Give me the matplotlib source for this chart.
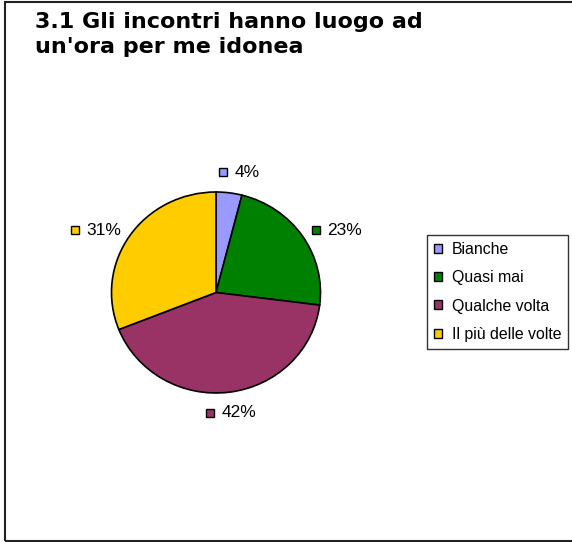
import matplotlib
matplotlib.use('Agg')
import matplotlib.pyplot as plt
from matplotlib.patches import Rectangle
from matplotlib.offsetbox import AnnotationBbox, HPacker, TextArea, DrawingArea
import numpy as np

# data
categories = ['Bianche', 'Quasi mai', 'Qualche volta', 'Il più delle volte']
percent = [4, 23, 42, 31]
colors = ['#9999FF', '#008000', '#993366', '#FFCC00']
title = "3.1 Gli incontri hanno luogo ad\nun'ora per me idonea"

W, H = 572, 542
fig = plt.figure(figsize=(W / 100, H / 100), dpi=100)
fig.patch.set_facecolor('white')

# outer frame (right edge is cut off in the original)
fig.patches.append(Rectangle((5 / W, 1 / H), 1.2, 539 / H, transform=fig.transFigure,
                             fill=False, edgecolor='#222222', linewidth=1.5))

fig.text(35 / W, 1 - 12 / H, title, ha='left', va='top', fontsize=16,
         fontweight='bold', family='DejaVu Sans', linespacing=1.3)

# pie axes: centre (216, 292.5), slightly squashed like the original (209 x 201 px)
cx, cy, rx, ry = 216, 292.5, 104.5, 100.5
ax = fig.add_axes([(cx - rx) / W, (H - cy - ry) / H, 2 * rx / W, 2 * ry / H])
wedges, _ = ax.pie(percent, colors=colors, startangle=90, counterclock=False,
                   wedgeprops=dict(edgecolor='black', linewidth=1.2))
ax.set_xlim(-1, 1)
ax.set_ylim(-1, 1)
ax.set_aspect('auto')

font = dict(family='Liberation Sans', size=12.5, color='black')


def marker_box(col):
    da = DrawingArea(6.5, 6.5, 0, 0)
    da.add_artist(Rectangle((0.4, 0.4), 5.7, 5.7, facecolor=col, edgecolor='black', linewidth=1))
    return da


for w, p, col in zip(wedges, percent, colors):
    ang = np.deg2rad((w.theta1 + w.theta2) / 2)
    c, s = np.cos(ang), np.sin(ang)
    box = HPacker(children=[marker_box(col), TextArea(f'{p}%', textprops=font)],
                  align='center', pad=0, sep=5)
    if abs(c) < 0.5:
        bx, by = (0.3, 0.0) if s > 0 else (0.5, 1.0)
        off = 9.4
    else:
        bx, by = (0.0 if c > 0 else 1.0), 0.5
        off = 7.5
    ab = AnnotationBbox(box, (c, s), xycoords='data', xybox=(off * c, off * s),
                        boxcoords='offset points', box_alignment=(bx, by),
                        frameon=False, pad=0, annotation_clip=False)
    ax.add_artist(ab)

handles = [Rectangle((0, 0), 1, 1, facecolor=c, edgecolor='black', linewidth=1) for c in colors]
leg = fig.legend(handles, categories, loc='upper left',
                 bbox_to_anchor=(427 / W, 1 - 235 / H), bbox_transform=fig.transFigure,
                 prop=dict(family='Liberation Sans', size=11.4), frameon=True, fancybox=False,
                 handlelength=0.5, handleheight=0.5, handletextpad=0.65,
                 labelspacing=0.85, borderpad=0.42, borderaxespad=0)
leg.get_frame().set_edgecolor('black')
leg.get_frame().set_linewidth(1)

fig.savefig('out.png', dpi=100)
